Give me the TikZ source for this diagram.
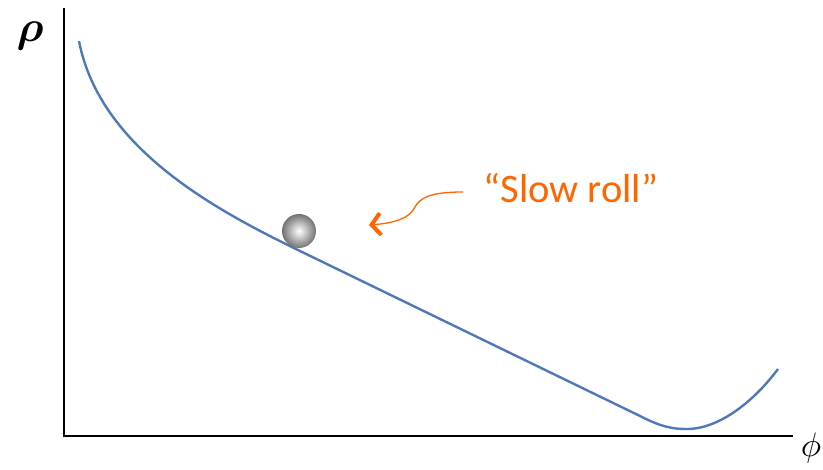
\documentclass[tikz,border=0pt]{standalone}
\usepackage{amsmath}
\usepackage{fontspec}
\newfontfamily\labelfont{Carlito}
\usetikzlibrary{arrows.meta}
\definecolor{curveblue}{RGB}{79,120,185}
\definecolor{rollorange}{RGB}{255,102,0}
\tikzset{
  axisline/.style={line width=1.5pt, black},
  potential/.style={line width=2.4pt, curveblue},
  pointer/.style={line width=1.3pt, rollorange, -{Straight Barb[length=9pt,width=22pt,line width=4pt]}},
}
\begin{document}
\begin{tikzpicture}[x=1pt,y=-1pt]
\useasboundingbox (0,0) rectangle (823,470);
\coordinate (top) at (64,8);
\coordinate (origin) at (64,436);
\coordinate (right) at (793,436);
\draw[axisline] (top) -- (origin) -- (right);
\node[scale=4.4] (rho) at (30,36) {$\boldsymbol{\rho}$};
\node[scale=3.4] (phi) at (811,448) {$\phi$};
\draw[potential] (79,41) .. controls (100,150) and (220,212) .. (300,251)
  -- (640,416) .. controls (663,428) and (675,429) .. (687,429)
  .. controls (720,429) and (755,400) .. (778,369);
\shade[inner color=white, outer color=black!55] (299,231) circle (17);
\node[anchor=center, text=rollorange] (label) at (571,188) {\fontsize{40.5}{40.5}\selectfont\labelfont “Slow roll”};
\coordinate (start) at (463,192);
\coordinate (tip) at (369,225);
\draw[pointer] (start) .. controls (430,192) and (420,198) .. (415,207)
  .. controls (410,218) and (395,223) .. (tip);
\end{tikzpicture}
\end{document}
